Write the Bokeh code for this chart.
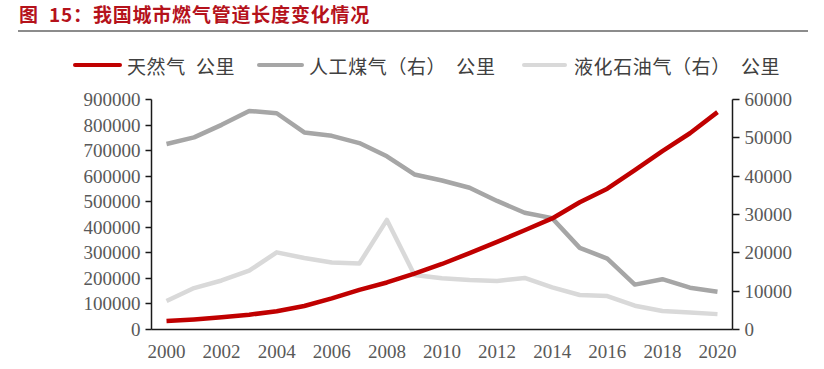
from bokeh.plotting import figure
from bokeh.models import Range1d, LinearAxis, FixedTicker, BasicTickFormatter, Div
from bokeh.layouts import column
from bokeh.embed import file_html
from bokeh.resources import INLINE

# ---------------- data ----------------
years = list(range(2000, 2021))
natural_gas = [33655, 39556, 47652, 57845, 71411, 92043, 121498, 155251, 184084,
               218778, 256429, 298972, 342752, 388473, 434571, 498087, 551031,
               623253, 698043, 767946, 850552]
coal_gas = [48384, 50114, 53383, 57017, 56419, 51404, 50524, 48630, 45172, 40447,
            38877, 36983, 33538, 30467, 29045, 21292, 18513, 11716, 13124, 10915, 9860]
lpg = [7419, 10809, 12788, 15349, 20119, 18662, 17469, 17202, 28590, 14236, 13374,
       12893, 12651, 13437, 10986, 9009, 8716, 6210, 4841, 4448, 4010]
x_ticks = list(range(2000, 2021, 2))
left_ticks = [0, 100000, 200000, 300000, 400000, 500000, 600000, 700000, 800000, 900000]
right_ticks = [0, 10000, 20000, 30000, 40000, 50000, 60000]
series_labels = ["天然气\u2002公里", "人工煤气（右）\u2002公里", "液化石油气（右）\u2002公里"]
series_colors = ["#C00000", "#A6A6A6", "#D9D9D9"]
title_text = "图\u200215：我国城市燃气管道长度变化情况"

CJK = "Noto Sans CJK SC"
SERIF = "Liberation Serif"
TICK_COLOR = "#595959"

# ---------------- header (title, rule, legend) ----------------
legend_layout = [(73, 49, 127), (257, 47, 309), (522, 45, 574)]  # sample left, width, label left
parts = [
    '<div style="position:relative;width:822px;height:80px;overflow:visible;">',
    '<div style="position:absolute;left:19px;top:0px;white-space:nowrap;'
    "font-family:'Noto Sans CJK SC';font-weight:bold;font-size:19px;line-height:normal;"
    'letter-spacing:0.8px;color:#B5121B;">' + title_text + '</div>',
    '<div style="position:absolute;left:18px;top:30px;width:790px;height:2px;'
    'background:#8C8C8C;"></div>',
]
for (sx, sw, lx), lab, col in zip(legend_layout, series_labels, series_colors):
    parts.append('<div style="position:absolute;left:%dpx;top:63px;width:%dpx;height:4px;'
                 'border-radius:2px;background:%s;"></div>' % (sx, sw, col))
    parts.append('<div style="position:absolute;left:%dpx;top:56px;white-space:nowrap;'
                 "font-family:'Noto Sans CJK SC';font-size:19px;line-height:19px;"
                 'letter-spacing:0.6px;color:#404040;">%s</div>' % (lx, lab))
parts.append('</div>')
header = Div(text="".join(parts), width=822, height=80, margin=0)

# ---------------- main chart ----------------
p = figure(width=822, height=288, x_range=Range1d(1999.455, 2020.545),
           y_range=Range1d(0, 900000), output_backend="svg", toolbar_location=None,
           min_border_left=151, min_border_right=90, min_border_top=19,
           min_border_bottom=39, margin=0)
p.outline_line_color = None
p.xgrid.visible = False
p.ygrid.visible = False
p.extra_y_ranges = {"right": Range1d(0, 60000)}

p.line(years, coal_gas, y_range_name="right", line_color=series_colors[1],
       line_width=4.5, line_join="round")
p.line(years, lpg, y_range_name="right", line_color=series_colors[2],
       line_width=4.5, line_join="round")
p.line(years, natural_gas, line_color=series_colors[0], line_width=4.5,
       line_join="round")

def style_axis(ax):
    ax.axis_line_color = "#1A1A1A"
    ax.axis_line_width = 1.5
    ax.major_tick_line_color = "#1A1A1A"
    ax.major_tick_line_width = 1.5
    ax.minor_tick_line_color = None
    ax.major_label_text_font = SERIF
    ax.major_label_text_font_size = "19px"
    ax.major_label_text_color = TICK_COLOR

xa = p.xaxis[0]
style_axis(xa)
xa.ticker = FixedTicker(ticks=x_ticks)
xa.major_tick_in = 0
xa.major_tick_out = 0
xa.major_label_standoff = 15

ya = p.yaxis[0]
style_axis(ya)
ya.ticker = FixedTicker(ticks=left_ticks)
ya.formatter = BasicTickFormatter(use_scientific=False)
ya.major_tick_in = 0
ya.major_tick_out = 6
ya.major_label_standoff = 5

ra = LinearAxis(y_range_name="right")
style_axis(ra)
ra.ticker = FixedTicker(ticks=right_ticks)
ra.formatter = BasicTickFormatter(use_scientific=False)
ra.major_tick_in = 0
ra.major_tick_out = 7
ra.major_label_standoff = 5
p.add_layout(ra, "right")

layout = column(header, p, spacing=0)
open("out.html", "w").write(file_html(layout, INLINE))
